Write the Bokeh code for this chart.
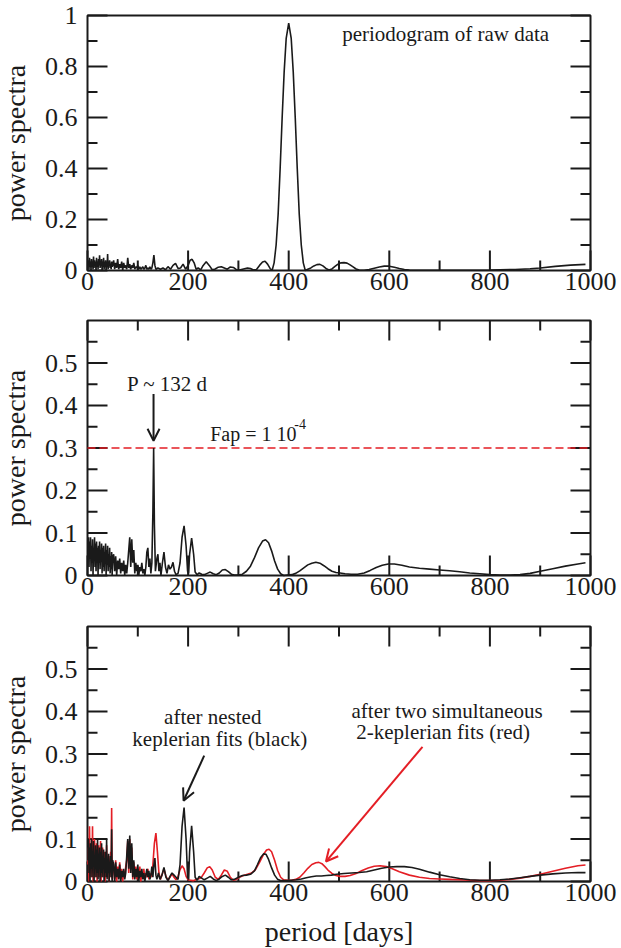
import math
from bokeh.plotting import figure
from bokeh.layouts import column
from bokeh.models import (Label, Arrow, OpenHead, Range1d)
from bokeh.embed import file_html
from bokeh.resources import INLINE

FONT = "Liberation Serif"
INK = "#1a1a1a"
RED = "#e41e25"

# ---------------- data ----------------
x_max = 1000
x_ticks = [0, 200, 400, 600, 800, 1000]
x_tick_labels = ["0", "200", "400", "600", "800", "1000"]
x_minor = [100, 300, 500, 700, 900]
y1_max = 1
y1_ticks = [0, 0.2, 0.4, 0.6, 0.8, 1]
y1_tick_labels = ["0", "0.2", "0.4", "0.6", "0.8", "1"]
y1_minor = [0.1, 0.3, 0.5, 0.7, 0.9]
y23_max = 0.6
y23_ticks = [0, 0.1, 0.2, 0.3, 0.4, 0.5]
y23_tick_labels = ["0", "0.1", "0.2", "0.3", "0.4", "0.5"]
y23_minor = [0.05, 0.15, 0.25, 0.35, 0.45, 0.55]
fap_level = 0.3

# Panel 1: periodogram of raw data
p1_period = list(range(1, 51)) + list(range(52, 138, 2)) + [
    140, 145, 150, 155, 160, 165, 170, 175, 180, 185, 190, 195, 200, 204, 208, 212, 216, 220, 225,
    230, 236, 242, 248, 254, 260, 266, 272, 278, 284, 290, 296, 302, 310, 318, 324, 330, 336, 342,
    348, 353, 358, 363, 367, 371, 375, 379, 383, 387, 391, 395, 400, 405, 409, 413, 417, 421, 425,
    429, 433, 438, 444, 450, 456, 462, 468, 474, 480, 486, 492, 498, 504, 510, 516, 522, 528, 534,
    540, 550, 560, 570, 580, 590, 600, 610, 620, 630, 640, 660, 700, 750, 800, 850, 880, 900, 930,
    960, 990]
p1_power = [
    0.02, 0.04, 0.005, 0.05, 0.015, 0.035, 0.0, 0.045, 0.02, 0.03, 0.005, 0.055, 0.01, 0.04, 0.02,
    0.03, 0.0, 0.05, 0.015, 0.035, 0.005, 0.045, 0.02, 0.06, 0.01, 0.03, 0.025, 0.045, 0.0, 0.035,
    0.015, 0.05, 0.005, 0.03, 0.02, 0.04, 0.0, 0.025, 0.015, 0.065, 0.005, 0.03, 0.02, 0.04, 0.01,
    0.025, 0.005, 0.035, 0.015, 0.02,
    0.04, 0.005, 0.03, 0.01, 0.045, 0.005, 0.025, 0.01, 0.035, 0.0, 0.03, 0.01, 0.02, 0.005, 0.05,
    0.01, 0.025, 0.005, 0.02, 0.01, 0.03, 0.005, 0.015, 0.01, 0.02, 0.005, 0.015, 0.005, 0.01,
    0.015, 0.005, 0.01, 0.02, 0.005, 0.01, 0.005, 0.015, 0.005, 0.01, 0.03, 0.06, 0.02, 0.005,
    0.01, 0.005, 0.01, 0.003, 0.015, 0.005, 0.02, 0.028, 0.008, 0.01, 0.025, 0.005, 0.02, 0.04,
    0.044, 0.03, 0.005, 0.01, 0.002, 0.02, 0.034, 0.02, 0.003, 0.006, 0.013, 0.015, 0.01, 0.005,
    0.014, 0.012, 0.003, 0.002, 0.006, 0.01, 0.008, 0.002, 0.004, 0.02, 0.033, 0.036, 0.025, 0.008,
    0.0, 0.03, 0.1, 0.22, 0.4, 0.6, 0.78, 0.91, 0.97, 0.91, 0.78, 0.6, 0.4, 0.22, 0.1, 0.03, 0.0,
    0.005, 0.01, 0.018, 0.023, 0.024, 0.018, 0.008, 0.002, 0.006, 0.016, 0.025, 0.03, 0.031, 0.029,
    0.022, 0.014, 0.006, 0.002, 0.001, 0.004, 0.009, 0.014, 0.017, 0.017, 0.013, 0.008, 0.004,
    0.002, 0.001, 0.001, 0.001, 0.002, 0.004, 0.007, 0.01, 0.016, 0.021, 0.024]

# Panel 2: residuals periodogram
p2_period = list(range(1, 51)) + list(range(52, 130, 2)) + [
    130, 131.5, 133, 135, 138, 140, 142, 144, 146, 149, 152, 155, 158, 161, 164, 167, 170, 173, 176,
    180, 184, 188, 192, 196, 199, 201, 203, 207, 211, 214, 218, 222, 227, 232, 238, 244, 250, 256,
    262, 268, 274, 280, 286, 292, 300, 308, 316, 324, 332, 340, 348, 354, 360, 366, 372, 378, 384,
    390, 398, 406, 414, 422, 430, 438, 446, 454, 462, 470, 478, 486, 494, 502, 512, 524, 537, 550,
    562, 574, 586, 598, 610, 625, 640, 660, 680, 700, 720, 740, 760, 780, 800, 820, 840, 860, 880,
    900, 925, 950, 975, 990]
p2_power = [
    0.06, 0.09, 0.02, 0.08, 0.04, 0.09, 0.01, 0.07, 0.03, 0.085, 0.0, 0.06, 0.04, 0.09, 0.02, 0.075,
    0.01, 0.08, 0.035, 0.065, 0.0, 0.07, 0.03, 0.08, 0.015, 0.06, 0.04, 0.075, 0.005, 0.065, 0.02,
    0.07, 0.01, 0.055, 0.03, 0.075, 0.0, 0.06, 0.025, 0.07, 0.01, 0.05, 0.02, 0.065, 0.005, 0.045,
    0.015, 0.055, 0.0, 0.04,
    0.05, 0.01, 0.045, 0.0, 0.035, 0.015, 0.04, 0.005, 0.03, 0.01, 0.035, 0.0, 0.025, 0.005, 0.03,
    0.06, 0.09, 0.02, 0.085, 0.03, 0.06, 0.005, 0.03, 0.01, 0.025, 0.0, 0.02, 0.01, 0.03, 0.005,
    0.015, 0.0, 0.02, 0.055, 0.065, 0.02, 0.04, 0.005, 0.03,
    0.15, 0.30, 0.12, 0.01, 0.04, 0.05, 0.01, 0.03, 0.0, 0.03, 0.055, 0.02, 0.005, 0.025, 0.015,
    0.02, 0.031, 0.01, 0.002, 0.005, 0.03, 0.09, 0.117, 0.07, 0.01, 0.005, 0.05, 0.088, 0.05, 0.008,
    0.002, 0.006, 0.003, 0.002, 0.005, 0.008, 0.004, 0.002, 0.006, 0.013, 0.014, 0.009, 0.003,
    0.001, 0.001, 0.003, 0.01, 0.022, 0.042, 0.065, 0.081, 0.084, 0.077, 0.058, 0.034, 0.015, 0.004,
    0.0, 0.001, 0.002, 0.005, 0.011, 0.018, 0.025, 0.029, 0.031, 0.029, 0.023, 0.016, 0.01, 0.007,
    0.006, 0.004, 0.003, 0.003, 0.006, 0.012, 0.019, 0.024, 0.027, 0.027, 0.024, 0.02, 0.017, 0.015,
    0.013, 0.011, 0.009, 0.006, 0.004, 0.002, 0.001, 0.001, 0.002, 0.005, 0.01, 0.016, 0.022, 0.027,
    0.03]

# Panel 3: black = after nested keplerian fits
p3_black_period = list(range(1, 51)) + list(range(52, 140, 2)) + [
    141, 144, 148, 152, 156, 160, 164, 168, 172, 176, 180, 184, 188, 192, 196, 199, 201, 203, 207,
    211, 214, 218, 222, 227, 232, 238, 244, 250, 256, 262, 268, 274, 280, 286, 292, 300, 308, 316,
    324, 332, 338, 344, 350, 355, 360, 366, 372, 378, 385, 395, 405, 415, 425, 435, 445, 455, 465,
    475, 485, 495, 510, 525, 540, 555, 570, 585, 600, 615, 630, 645, 660, 680, 700, 720, 740, 760,
    780, 800, 820, 840, 860, 880, 900, 925, 950, 975, 990]
p3_black_power = [
    0.05, 0.1, 0.02, 0.08, 0.0, 0.09, 0.03, 0.1, 0.01, 0.07, 0.04, 0.095, 0.0, 0.06, 0.03, 0.085,
    0.01, 0.075, 0.02, 0.1, 0.005, 0.065, 0.035, 0.08, 0.0, 0.07, 0.02, 0.09, 0.01, 0.06, 0.03,
    0.075, 0.0, 0.055, 0.02, 0.07, 0.01, 0.1, 0.005, 0.05, 0.02, 0.065, 0.0, 0.045, 0.03, 0.06,
    0.01, 0.123, 0.0, 0.05,
    0.04, 0.0, 0.045, 0.01, 0.03, 0.005, 0.04, 0.0, 0.025, 0.01, 0.03, 0.005, 0.02, 0.06, 0.1, 0.03,
    0.108, 0.02, 0.09, 0.01, 0.05, 0.005, 0.03, 0.01, 0.04, 0.0, 0.025, 0.01, 0.03, 0.005, 0.02,
    0.0, 0.015, 0.03, 0.01, 0.025, 0.005, 0.015, 0.035, 0.01, 0.04, 0.055, 0.015, 0.005,
    0.02, 0.005, 0.015, 0.033, 0.01, 0.002, 0.012, 0.02, 0.015, 0.01, 0.005, 0.04, 0.13, 0.174,
    0.1, 0.01, 0.005, 0.07, 0.131, 0.07, 0.01, 0.003, 0.012, 0.008, 0.004, 0.008, 0.012, 0.006,
    0.002, 0.006, 0.012, 0.015, 0.01, 0.004, 0.005, 0.01, 0.014, 0.015, 0.017, 0.025, 0.04, 0.056,
    0.065, 0.064, 0.052, 0.032, 0.015, 0.005, 0.002, 0.002, 0.003, 0.004, 0.006, 0.009, 0.011,
    0.013, 0.013, 0.014, 0.015, 0.017, 0.019, 0.02, 0.021, 0.023, 0.027, 0.031, 0.034, 0.035, 0.035,
    0.033, 0.029, 0.022, 0.016, 0.011, 0.007, 0.004, 0.003, 0.003, 0.004, 0.006, 0.009, 0.012,
    0.015, 0.018, 0.02, 0.021, 0.021]

# Panel 3: red = after two simultaneous 2-keplerian fits
p3_red_period = list(range(1, 51)) + list(range(52, 132, 2)) + [
    133, 136, 139, 142, 145, 148, 152, 156, 160, 164, 168, 172, 176, 180, 184, 188, 192, 196, 200,
    205, 210, 215, 220, 226, 232, 238, 243, 248, 254, 260, 266, 272, 278, 284, 290, 296, 302, 310,
    318, 326, 334, 342, 350, 356, 361, 366, 372, 378, 384, 390, 398, 406, 414, 422, 430, 438, 446,
    454, 460, 466, 472, 478, 486, 494, 502, 512, 522, 534, 546, 558, 570, 582, 594, 606, 620, 640,
    660, 680, 700, 720, 740, 760, 780, 800, 820, 840, 860, 880, 900, 925, 950, 975, 990]
p3_red_power = [
    0.04, 0.08, 0.0, 0.13, 0.03, 0.07, 0.01, 0.09, 0.02, 0.13, 0.0, 0.06, 0.04, 0.1, 0.01, 0.08,
    0.03, 0.09, 0.0, 0.07, 0.02, 0.085, 0.01, 0.06, 0.04, 0.095, 0.0, 0.065, 0.02, 0.08, 0.01,
    0.055, 0.03, 0.07, 0.0, 0.06, 0.02, 0.085, 0.01, 0.045, 0.03, 0.06, 0.0, 0.05, 0.02, 0.07,
    0.01, 0.173, 0.005, 0.04,
    0.03, 0.005, 0.05, 0.0, 0.035, 0.01, 0.045, 0.005, 0.03, 0.0, 0.025, 0.01, 0.035, 0.05, 0.095,
    0.02, 0.1, 0.03, 0.08, 0.005, 0.045, 0.01, 0.035, 0.005, 0.03, 0.01, 0.035, 0.0, 0.02, 0.01,
    0.03, 0.005, 0.02, 0.01, 0.03, 0.005, 0.02, 0.01, 0.02, 0.04,
    0.09, 0.114, 0.07, 0.02, 0.005, 0.015, 0.03, 0.012, 0.003, 0.01, 0.018, 0.01, 0.004, 0.012,
    0.028, 0.037, 0.03, 0.012, 0.004, 0.003, 0.002, 0.004, 0.006, 0.009, 0.02, 0.032, 0.035, 0.027,
    0.01, 0.005, 0.015, 0.027, 0.024, 0.01, 0.003, 0.005, 0.01, 0.014, 0.017, 0.02, 0.028, 0.045,
    0.064, 0.074, 0.076, 0.07, 0.05, 0.026, 0.01, 0.004, 0.003, 0.003, 0.005, 0.01, 0.02, 0.031,
    0.04, 0.044, 0.045, 0.042, 0.035, 0.027, 0.019, 0.014, 0.012, 0.012, 0.014, 0.019, 0.026, 0.032,
    0.036, 0.037, 0.035, 0.03, 0.023, 0.015, 0.01, 0.007, 0.006, 0.005, 0.004, 0.003, 0.002, 0.002,
    0.003, 0.005, 0.008, 0.012, 0.017, 0.024, 0.031, 0.037, 0.039]

# ---------------- layout (pixels) ----------------
FIG_W = 621
BOX_W, BOX_H = 503, 255
MARGIN_L, MARGIN_R = 87, 31


def ticks(p, xs, ys, angle, length):
    p.ray(x=xs, y=ys, length=length, length_units="screen", angle=angle,
          line_color=INK, line_width=2)


def lab(p, x, y, s, size, align, baseline, x_off=0, y_off=0, angle=0.0):
    p.add_layout(Label(x=x, y=y, text=s, x_offset=x_off, y_offset=y_off, angle=angle,
                       text_font=FONT, text_font_size=size, text_color=INK,
                       text_align=align, text_baseline=baseline))


def make_panel(ymax, yticks, ylabels, yminor, top_ticks, fig_h, m_top, m_bottom):
    xs = BOX_W / x_max
    ys = BOX_H / ymax
    p = figure(frame_width=FIG_W, frame_height=fig_h, min_border=0,
               x_range=Range1d(-MARGIN_L / xs, x_max + MARGIN_R / xs),
               y_range=Range1d(-m_bottom / ys, ymax + m_top / ys),
               x_axis_type=None, y_axis_type=None,
               output_backend="svg", toolbar_location=None,
               background_fill_color="white", border_fill_color="white",
               outline_line_color=None)
    p.grid.visible = False

    # plot box
    p.quad(left=[0], right=[x_max], bottom=[0], top=[ymax], fill_color=None,
           line_color=INK, line_width=2)

    # inward ticks: bottom, left, right (and top)
    ticks(p, x_ticks, [0] * len(x_ticks), math.pi / 2, 20)
    ticks(p, x_minor, [0] * len(x_minor), math.pi / 2, 10)
    ticks(p, [0] * len(yticks), yticks, 0, 20)
    ticks(p, [0] * len(yminor), yminor, 0, 10)
    ticks(p, [x_max] * len(yticks), yticks, math.pi, 20)
    ticks(p, [x_max] * len(yminor), yminor, math.pi, 10)
    if top_ticks:
        ticks(p, x_ticks, [ymax] * len(x_ticks), -math.pi / 2, 20)
        ticks(p, x_minor, [ymax] * len(x_minor), -math.pi / 2, 10)

    # tick labels
    for xv, s in zip(x_ticks, x_tick_labels):
        lab(p, xv, 0, s, "26px", "center", "top", y_off=-2)
    for yv, s in zip(yticks, ylabels):
        lab(p, 0, yv, s, "26px", "right", "middle", x_off=-10)
    # y axis title
    lab(p, 0, ymax / 2, "power spectra", "28px", "center", "alphabetic",
        x_off=-72, angle=math.pi / 2)
    return p


def text(p, x, y, s, size="21px", align="center"):
    lab(p, x, y, s, size, align, "middle")


# ---------------- panel 1 ----------------
p1 = make_panel(y1_max, y1_ticks, y1_tick_labels, y1_minor, False, 305, 15, 35)
p1.line(p1_period, p1_power, line_color=INK, line_width=1.6)
text(p1, 712, 0.927, "periodogram of raw data")

# ---------------- panel 2 ----------------
p2 = make_panel(y23_max, y23_ticks, y23_tick_labels, y23_minor, True, 306, 15, 36)
p2.segment(x0=[0], y0=[fap_level], x1=[x_max], y1=[fap_level], line_color=RED,
           line_dash="8 4", line_width=1.6)
p2.line(p2_period, p2_power, line_color=INK, line_width=1.6)
text(p2, 159, 0.451, "P ~ 132 d")
p2.add_layout(Arrow(end=OpenHead(size=12, line_width=2, line_color=INK),
                    x_start=131.3, y_start=0.427, x_end=131.3, y_end=0.317,
                    line_width=2, line_color=INK))
text(p2, 244, 0.334, "Fap = 1 10", size="20px", align="left")
text(p2, 411, 0.357, "-4", size="14px", align="left")

# ---------------- panel 3 ----------------
p3 = make_panel(y23_max, y23_ticks, y23_tick_labels, y23_minor, True, 337, 15, 67)
p3.line(p3_red_period, p3_red_power, line_color=RED, line_width=1.6)
p3.line(p3_black_period, p3_black_power, line_color=INK, line_width=1.6)
lab(p3, x_max / 2, 0, "period [days]", "28px", "center", "alphabetic", y_off=-50)
text(p3, 249, 0.386, "after nested")
text(p3, 263, 0.335, "keplerian fits (black)")
p3.add_layout(Arrow(end=OpenHead(size=12, line_width=2, line_color=INK),
                    x_start=232, y_start=0.296, x_end=191, y_end=0.19,
                    line_width=2, line_color=INK))
text(p3, 715, 0.402, "after two simultaneous")
text(p3, 707, 0.351, "2-keplerian fits (red)")
p3.add_layout(Arrow(end=OpenHead(size=12, line_width=2, line_color=RED),
                    x_start=666, y_start=0.317, x_end=474, y_end=0.047,
                    line_width=2, line_color=RED))

layout = column(p1, p2, p3, spacing=0)
open("out.html", "w").write(file_html(layout, INLINE))
